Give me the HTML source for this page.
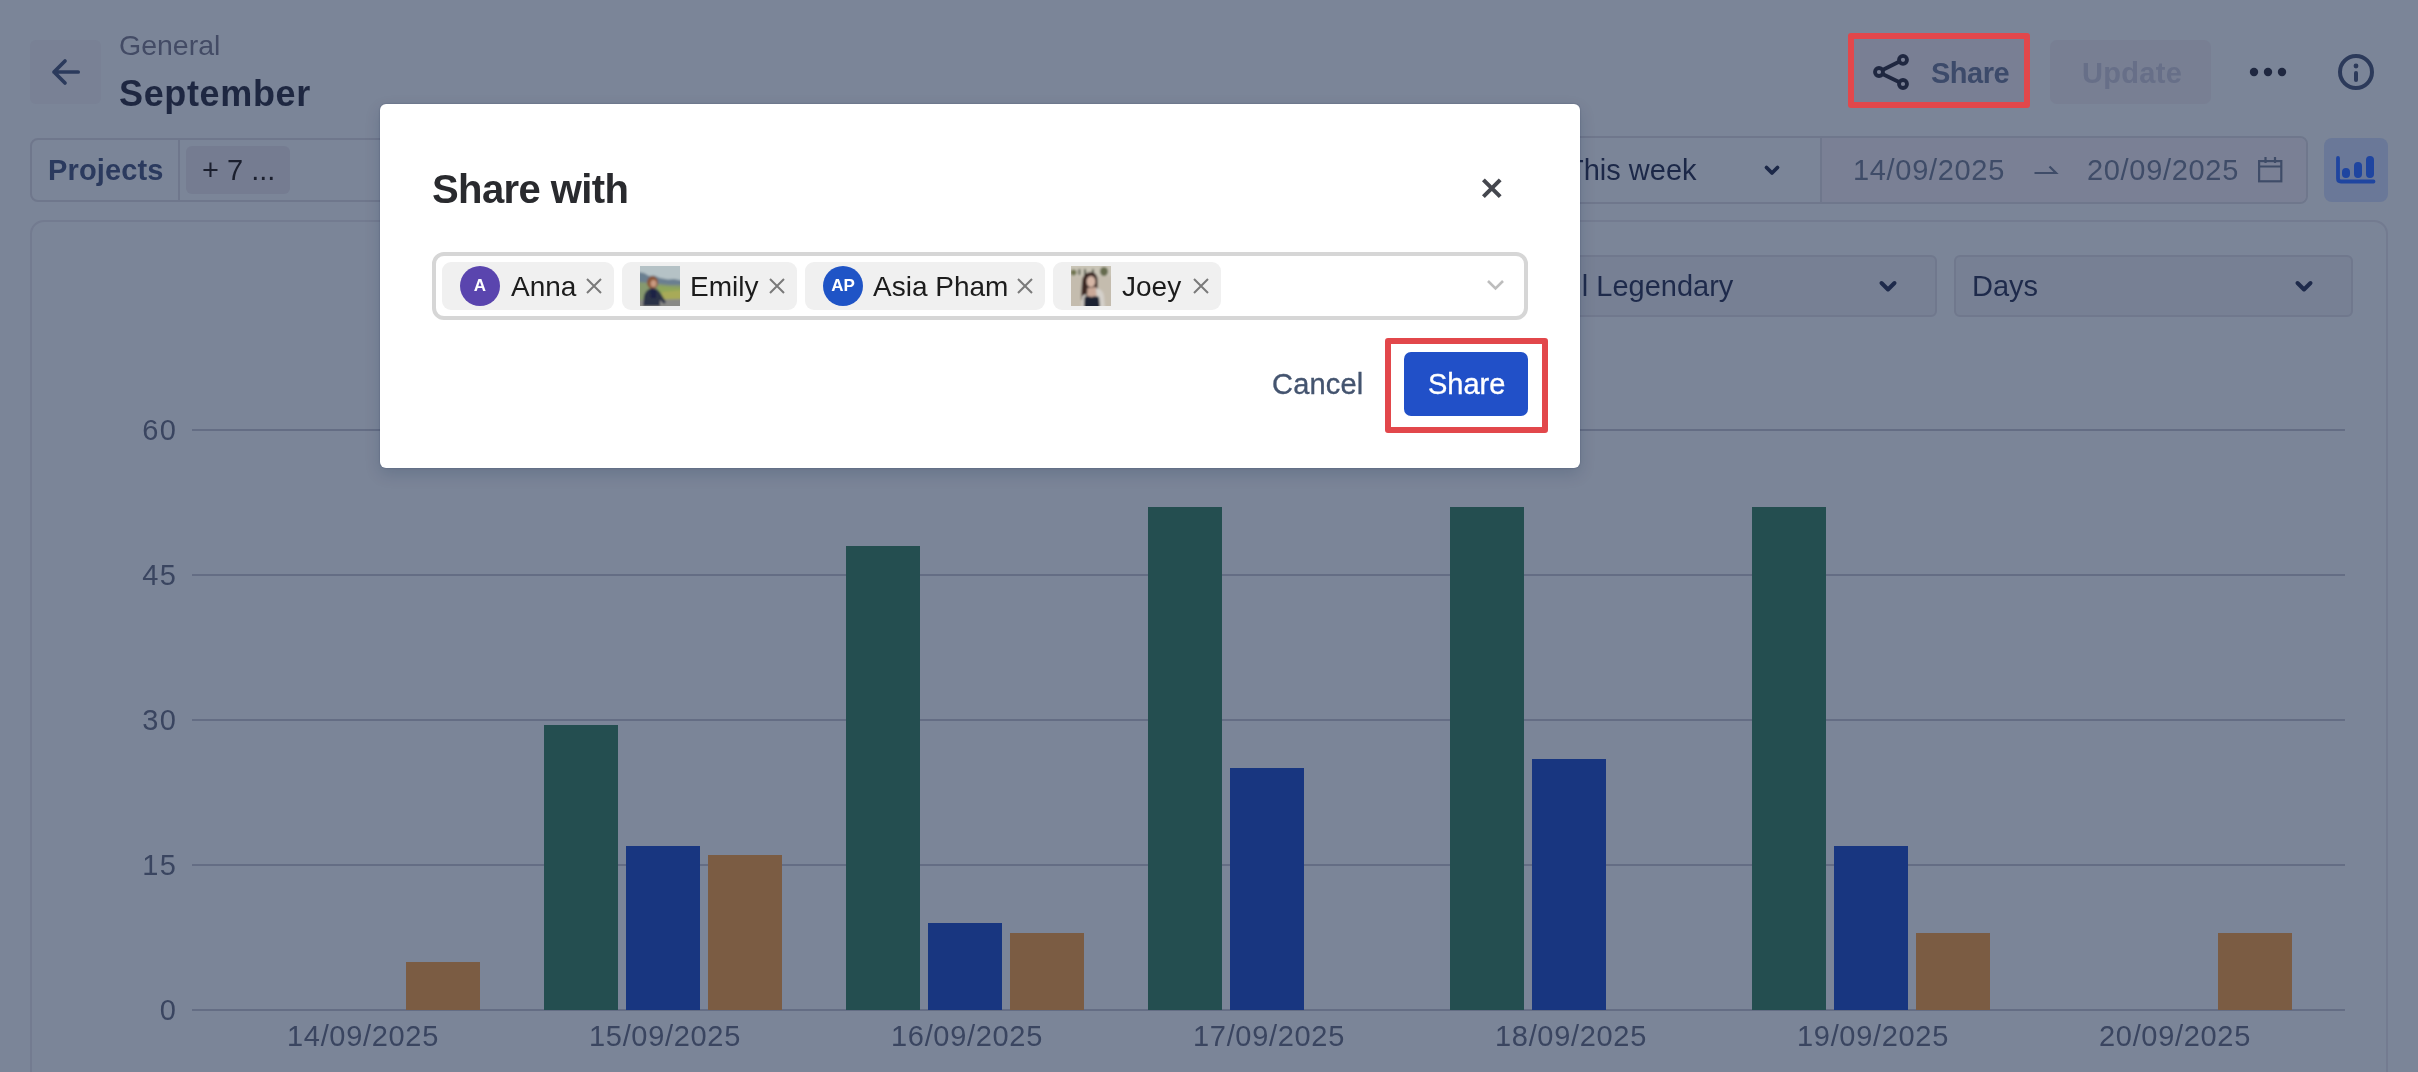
<!DOCTYPE html>
<html><head><meta charset="utf-8">
<style>
*{box-sizing:border-box;margin:0;padding:0}
html,body{width:2418px;height:1072px;overflow:hidden}
body{background:#7b8598;font-family:"Liberation Sans",sans-serif;position:relative}
.t{will-change:transform}
.a{position:absolute}
.t{position:absolute;white-space:nowrap;line-height:1}
.b{font-weight:bold}
svg{position:absolute;overflow:visible}
</style></head><body>

<!-- HEADER -->
<div class="a" style="left:30px;top:40px;width:71px;height:64px;border-radius:6px;background:#798195"></div>
<svg style="left:0;top:0" width="2418" height="120">
  <path d="M78.2 72H54M65 61L54 72L65 83" fill="none" stroke="#2b3a5c" stroke-width="3.7" stroke-linecap="round" stroke-linejoin="round"/>
</svg>
<div class="t" style="left:118.5px;top:30.6px;font-size:28.5px;color:#434b65">General</div>
<div class="t b" style="left:118.5px;top:75.5px;font-size:36px;letter-spacing:0.65px;color:#1e2741">September</div>

<!-- share button -->
<div class="a" style="left:1854px;top:39px;width:170px;height:63px;background:#797f94"></div>
<div class="a" style="left:1848px;top:33px;width:182px;height:75px;border:6px solid #e2474b;border-radius:3px"></div>
<svg style="left:0;top:0" width="2418" height="120">
  <g fill="none" stroke="#1f2740" stroke-width="3.8">
    <path d="M1883 69.8L1899 61.8M1883 74.2L1899 82"/>
    <circle cx="1879" cy="72" r="4"/>
    <circle cx="1903" cy="59.8" r="4"/>
    <circle cx="1903" cy="84" r="4"/>
  </g>
</svg>
<div class="t b" style="left:1931px;top:58.5px;font-size:29px;letter-spacing:-0.5px;color:#3c4a6a">Share</div>

<div class="a" style="left:2050px;top:40px;width:161px;height:64px;border-radius:7px;background:#787f93"></div>
<div class="t b" style="left:2082px;top:58.5px;font-size:29px;letter-spacing:0.3px;color:#676f88">Update</div>

<svg style="left:0;top:0" width="2418" height="120">
  <g fill="#1f2740"><circle cx="2254" cy="72" r="4.2"/><circle cx="2268" cy="72" r="4.2"/><circle cx="2282" cy="72" r="4.2"/></g>
  <circle cx="2356" cy="72" r="16" fill="none" stroke="#2c3a5a" stroke-width="4"/>
  <circle cx="2356" cy="66" r="2.4" fill="#2c3a5a"/>
  <path d="M2356 73V80" stroke="#2c3a5a" stroke-width="4" stroke-linecap="round"/>
</svg>

<!-- FILTER BAR -->
<div class="a" style="left:30px;top:138px;width:1000px;height:64px;border:2px solid #6f778c;border-radius:8px"></div>
<div class="a" style="left:178px;top:140px;width:2px;height:60px;background:#6f778c"></div>
<div class="a" style="left:1300px;top:136px;width:1007.5px;height:68px;border:2px solid #6f778c;border-radius:8px"></div>
<div class="t b" style="left:47.5px;top:156.4px;font-size:29px;letter-spacing:0.15px;color:#2b3a5e">Projects</div>
<div class="a" style="left:186px;top:146px;width:104px;height:48px;border-radius:6px;background:#757c91"></div>
<div class="t" style="left:202px;top:156.4px;font-size:29px;color:#1b1f2e">+ 7 ...</div>

<div class="t" style="left:1566px;top:156.4px;font-size:29px;color:#1c2848">This week</div>
<svg style="left:0;top:0" width="2418" height="340">
  <path d="M1766.5 167.5L1772 173L1777.5 167.5" fill="none" stroke="#1c2848" stroke-width="3.8" stroke-linecap="round" stroke-linejoin="round"/>
</svg>
<div class="a" style="left:1820px;top:138px;width:2px;height:64px;background:#6f778c"></div>
<div class="a" style="left:1822px;top:138px;width:483.5px;height:64px;background:#7a8095;border-radius:0 6px 6px 0"></div>
<div class="t" style="left:1853px;top:156.4px;font-size:29px;letter-spacing:0.68px;color:#3f4c68">14/09/2025</div>
<div class="t" style="left:2087px;top:156.4px;font-size:29px;letter-spacing:0.68px;color:#3f4c68">20/09/2025</div>
<svg style="left:0;top:0" width="2418" height="340">
  <path d="M2034.5 173H2056L2049.5 166.5" fill="none" stroke="#3f4c68" stroke-width="2.2"/>
  <g fill="none" stroke="#3f4c68" stroke-width="2.2">
    <rect x="2259.1" y="161.1" width="22.2" height="20.2"/>
    <path d="M2259 166.5H2281.3M2265.5 157V163M2275 157V163"/>
  </g>
</svg>
<div class="a" style="left:2324px;top:138px;width:64px;height:64px;border-radius:8px;background:#6a7898"></div>
<svg style="left:0;top:0" width="2418" height="340">
  <g fill="none" stroke="#1f45a0" stroke-linecap="round" stroke-linejoin="round">
    <path d="M2338 158V178.5Q2338 181.5 2341 181.5H2373.5" stroke-width="3.8"/>
    <path d="M2346 172V174M2358 166V174M2370 160V174" stroke-width="8"/>
  </g>
</svg>

<!-- CHART CONTAINER -->
<div class="a" style="left:30px;top:220px;width:2358px;height:900px;border:2px solid #737b90;border-radius:14px"></div>
<div class="a" style="left:1400px;top:255px;width:537px;height:62px;border:2px solid #70788d;border-radius:6px;background:#778094"></div>
<div class="t" style="left:1556px;top:272.0px;font-size:29px;color:#1e2a4b">All Legendary</div>
<div class="a" style="left:1954px;top:255px;width:399px;height:62px;border:2px solid #70788d;border-radius:6px;background:#778094"></div>
<div class="t" style="left:1972px;top:272.0px;font-size:29px;color:#1e2a4b">Days</div>
<svg style="left:0;top:0" width="2418" height="340">
  <g fill="none" stroke="#1e2a4b" stroke-width="4" stroke-linecap="round" stroke-linejoin="round">
    <path d="M1881.5 283L1888 289.5L1894.5 283"/>
    <path d="M2297.5 283L2304 289.5L2310.5 283"/>
  </g>
</svg>

<!-- CHART -->
<div id="chart">
<div class="a" style="left:192px;top:429px;width:2153px;height:2px;background:#646d84"></div>
<div class="t" style="left:100px;width:77.5px;text-align:right;top:416.35px;font-size:29px;letter-spacing:1.5px;color:#3a4560">60</div>
<div class="a" style="left:192px;top:574px;width:2153px;height:2px;background:#646d84"></div>
<div class="t" style="left:100px;width:77.5px;text-align:right;top:561.35px;font-size:29px;letter-spacing:1.5px;color:#3a4560">45</div>
<div class="a" style="left:192px;top:719px;width:2153px;height:2px;background:#646d84"></div>
<div class="t" style="left:100px;width:77.5px;text-align:right;top:706.35px;font-size:29px;letter-spacing:1.5px;color:#3a4560">30</div>
<div class="a" style="left:192px;top:864px;width:2153px;height:2px;background:#646d84"></div>
<div class="t" style="left:100px;width:77.5px;text-align:right;top:851.35px;font-size:29px;letter-spacing:1.5px;color:#3a4560">15</div>
<div class="a" style="left:192px;top:1009px;width:2153px;height:2px;background:#646d84"></div>
<div class="t" style="left:100px;width:77.5px;text-align:right;top:996.35px;font-size:29px;letter-spacing:1.5px;color:#3a4560">0</div>
<div class="a" style="left:406px;top:961.7px;width:74px;height:48.3px;background:#7b5c43"></div>
<div class="t" style="left:263.3px;width:200px;text-align:center;top:1022.3px;font-size:29px;letter-spacing:0.68px;color:#3a4560">14/09/2025</div>
<div class="a" style="left:544px;top:724.8px;width:74px;height:285.2px;background:#244e50"></div>
<div class="a" style="left:626px;top:845.7px;width:74px;height:164.3px;background:#183680"></div>
<div class="a" style="left:708px;top:855.3px;width:74px;height:154.7px;background:#7b5c43"></div>
<div class="t" style="left:565.3px;width:200px;text-align:center;top:1022.3px;font-size:29px;letter-spacing:0.68px;color:#3a4560">15/09/2025</div>
<div class="a" style="left:846px;top:546.0px;width:74px;height:464.0px;background:#244e50"></div>
<div class="a" style="left:928px;top:923.0px;width:74px;height:87.0px;background:#183680"></div>
<div class="a" style="left:1010px;top:932.7px;width:74px;height:77.3px;background:#7b5c43"></div>
<div class="t" style="left:867.3px;width:200px;text-align:center;top:1022.3px;font-size:29px;letter-spacing:0.68px;color:#3a4560">16/09/2025</div>
<div class="a" style="left:1148px;top:507.3px;width:74px;height:502.7px;background:#244e50"></div>
<div class="a" style="left:1230px;top:768.3px;width:74px;height:241.7px;background:#183680"></div>
<div class="t" style="left:1169.3px;width:200px;text-align:center;top:1022.3px;font-size:29px;letter-spacing:0.68px;color:#3a4560">17/09/2025</div>
<div class="a" style="left:1450px;top:507.3px;width:74px;height:502.7px;background:#244e50"></div>
<div class="a" style="left:1532px;top:758.7px;width:74px;height:251.3px;background:#183680"></div>
<div class="t" style="left:1471.3px;width:200px;text-align:center;top:1022.3px;font-size:29px;letter-spacing:0.68px;color:#3a4560">18/09/2025</div>
<div class="a" style="left:1752px;top:507.3px;width:74px;height:502.7px;background:#244e50"></div>
<div class="a" style="left:1834px;top:845.7px;width:74px;height:164.3px;background:#183680"></div>
<div class="a" style="left:1916px;top:932.7px;width:74px;height:77.3px;background:#7b5c43"></div>
<div class="t" style="left:1773.3px;width:200px;text-align:center;top:1022.3px;font-size:29px;letter-spacing:0.68px;color:#3a4560">19/09/2025</div>
<div class="a" style="left:2218px;top:932.7px;width:74px;height:77.3px;background:#7b5c43"></div>
<div class="t" style="left:2075.3px;width:200px;text-align:center;top:1022.3px;font-size:29px;letter-spacing:0.68px;color:#3a4560">20/09/2025</div>
</div>

<!-- MODAL -->
<div class="a" style="left:380px;top:104px;width:1200px;height:364px;background:#fff;border-radius:6px;box-shadow:0 6px 16px rgba(9,30,66,0.16),0 0 2px rgba(9,30,66,0.3)"></div>
<div class="t b" style="left:432px;top:168.8px;font-size:40px;letter-spacing:-0.6px;color:#292a2e">Share with</div>
<svg style="left:0;top:0" width="2418" height="480">
  <path d="M1483.4 179.9L1500.2 196.7M1500.2 179.9L1483.4 196.7" fill="none" stroke="#45474e" stroke-width="4"/>
</svg>
<div class="a" style="left:432px;top:252px;width:1096px;height:68px;border:4px solid #d6d6d6;border-radius:12px"></div>

<div class="a" style="left:442px;top:262px;width:172px;height:48px;border-radius:9px;background:#f0f0f0"></div>
<div class="a" style="left:622px;top:262px;width:175px;height:48px;border-radius:9px;background:#f0f0f0"></div>
<div class="a" style="left:805px;top:262px;width:240px;height:48px;border-radius:9px;background:#f0f0f0"></div>
<div class="a" style="left:1053px;top:262px;width:168px;height:48px;border-radius:9px;background:#f0f0f0"></div>

<div class="a" style="left:460px;top:266px;width:40px;height:40px;border-radius:50%;background:#5a45ae"></div>
<div class="t b" style="left:460px;top:277px;width:40px;text-align:center;font-size:17px;color:#fff">A</div>
<div class="a" style="left:823px;top:266px;width:40px;height:40px;border-radius:50%;background:#1f54c6"></div>
<div class="t b" style="left:823px;top:277px;width:40px;text-align:center;font-size:17px;color:#fff">AP</div>

<div class="t" style="left:511px;top:272.8px;font-size:28px;color:#1c1c1c">Anna</div>
<div class="t" style="left:690px;top:272.8px;font-size:28px;color:#1c1c1c">Emily</div>
<div class="t" style="left:873px;top:272.8px;font-size:28px;color:#1c1c1c">Asia Pham</div>
<div class="t" style="left:1122px;top:272.8px;font-size:28px;color:#1c1c1c">Joey</div>

<svg style="left:0;top:0" width="2418" height="480">
  <g fill="none" stroke="#7a7a7a" stroke-width="2">
    <path d="M587 279L601 293M601 279L587 293"/>
    <path d="M770 279L784 293M784 279L770 293"/>
    <path d="M1018 279L1032 293M1032 279L1018 293"/>
    <path d="M1194 279L1208 293M1208 279L1194 293"/>
  </g>
  <path d="M1488 281L1495.5 288.5L1503 281" fill="none" stroke="#bdbdbd" stroke-width="2.6"/>
</svg>

<!-- photo avatars -->
<svg style="left:640px;top:266px" width="40" height="40" viewBox="0 0 40 40">
  <defs><filter id="bl1" x="-10%" y="-10%" width="120%" height="120%"><feGaussianBlur stdDeviation="0.9"/></filter>
  <clipPath id="c1"><rect width="40" height="40"/></clipPath></defs>
  <g clip-path="url(#c1)"><g filter="url(#bl1)">
  <rect x="-2" y="-2" width="44" height="44" fill="#b5c2c6"/>
  <path d="M-2 6L4 7L9 10L14 9.5L20 12L28 13.5L34 13L42 14.5V42H-2Z" fill="#6a7f90"/>
  <path d="M-2 16L10 17L20 18L30 19L42 19V42H-2Z" fill="#86996e"/>
  <path d="M18 20L30 21L42 22V42H18Z" fill="#8fa65a"/>
  <path d="M22 26L42 24V34H22Z" fill="#a8aa58"/>
  <path d="M-2 34L42 33V42H-2Z" fill="#8a8a86"/>
  <ellipse cx="12.5" cy="16.5" rx="5.5" ry="6.5" fill="#8a5438"/>
  <ellipse cx="13.5" cy="17.5" rx="3" ry="3.6" fill="#c89a80"/>
  <path d="M3 40L4 30Q6 23 12 22Q18 22 21 28L26 36L24 38L20 34L20 40Z" fill="#2c3247"/>
  <path d="M10 24Q13 23 16 24L16 32L11 32Z" fill="#1f2445"/>
  </g></g>
</svg>
<svg style="left:1071px;top:266px" width="40" height="40" viewBox="0 0 40 40">
  <defs><filter id="bl2" x="-10%" y="-10%" width="120%" height="120%"><feGaussianBlur stdDeviation="0.8"/></filter>
  <clipPath id="c2"><rect width="40" height="40"/></clipPath></defs>
  <g clip-path="url(#c2)"><g filter="url(#bl2)">
  <rect x="-2" y="-2" width="44" height="44" fill="#c4bcae"/>
  <rect x="-2" y="-2" width="44" height="12" fill="#c9c4b6"/>
  <ellipse cx="2.5" cy="6.5" rx="3" ry="3" fill="#6f7550"/>
  <rect x="7.5" y="3" width="1.8" height="6" fill="#4e5444"/>
  <rect x="13" y="3" width="2" height="6" fill="#4e5444"/>
  <rect x="21" y="3" width="1.8" height="5" fill="#4e5444"/>
  <ellipse cx="33" cy="5.5" rx="4" ry="4.5" fill="#656b4e"/>
  <path d="M10 34L11 16Q12 6 20 6Q27 6.5 26.5 16L26.5 23L17 24L16 34Z" fill="#3a2724"/>
  <ellipse cx="20" cy="15.5" rx="4.3" ry="5.5" fill="#d6b6a6"/>
  <path d="M16.5 22L25 21L26 31L16 31Z" fill="#c9a898"/>
  <path d="M25 22Q32 23 33 30L34 42H27Z" fill="#d4d0ca"/>
  <path d="M10 42L11 30L15 28L15 42Z" fill="#cfcac4"/>
  <path d="M13 42L13.5 31Q17 29.5 20.5 31Q24 29.5 28 31L29 42Z" fill="#1c2030"/>
  </g></g>
</svg>

<div class="t" style="left:1272px;top:370.4px;font-size:29px;letter-spacing:0.2px;color:#44546f;-webkit-text-stroke:0.35px #44546f">Cancel</div>
<div class="a" style="left:1404px;top:352px;width:124px;height:64px;border-radius:7px;background:#2150c8"></div>
<div class="t" style="left:1428px;top:369.8px;font-size:29px;color:#fff;-webkit-text-stroke:0.35px #fff">Share</div>
<div class="a" style="left:1385px;top:338px;width:163px;height:95px;border:6px solid #e2474b;border-radius:3px"></div>


</body></html>
